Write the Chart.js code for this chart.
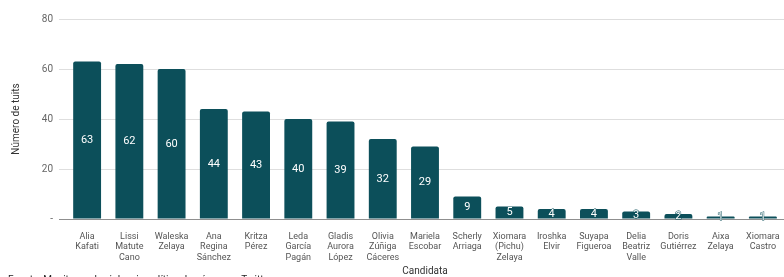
<!DOCTYPE html>
<html>
<head>
<meta charset="utf-8">
<script src="https://cdn.jsdelivr.net/npm/chart.js@4/dist/chart.umd.min.js"></script>
<style>
  html, body { margin: 0; padding: 0; background: #fff; overflow: hidden; }
  #wrap { position: relative; width: 784px; height: 277px; }
  #footer { position: absolute; left: 8px; top: 274px; font: 10px Roboto, Arial, sans-serif; color: #222; white-space: nowrap; }
</style>
</head>
<body>
<div id="wrap">
  <canvas id="c" width="784" height="277"></canvas>
  <div id="footer">Fuente: Monitoreo de violencia política de género en Twitter</div>
</div>
<script>
const categories = [
  ["Alia","Kafati"],
  ["Lissi","Matute","Cano"],
  ["Waleska","Zelaya"],
  ["Ana","Regina","Sánchez"],
  ["Kritza","Pérez"],
  ["Leda","García","Pagán"],
  ["Gladis","Aurora","López"],
  ["Olivia","Zúñiga","Cáceres"],
  ["Mariela","Escobar"],
  ["Scherly","Arriaga"],
  ["Xiomara","(Pichu)","Zelaya"],
  ["Iroshka","Elvir"],
  ["Suyapa","Figueroa"],
  ["Delia","Beatriz","Valle"],
  ["Doris","Gutiérrez"],
  ["Aixa","Zelaya"],
  ["Xiomara","Castro"]
];
const tuits = [63, 62, 60, 44, 43, 40, 39, 32, 29, 9, 5, 4, 4, 3, 2, 1, 1];
const yTicks = [0, 20, 40, 60, 80];

const barColor = '#0c4f5a';
const font = 'Roboto, Arial, sans-serif';

const valueLabels = {
  id: 'valueLabels',
  afterDatasetsDraw(chart) {
    const ctx = chart.ctx;
    const meta = chart.getDatasetMeta(0);
    ctx.save();
    ctx.font = '11px ' + font;
    ctx.fillStyle = '#ffffff';
    ctx.strokeStyle = barColor;
    ctx.lineWidth = 1;
    ctx.textAlign = 'center';
    ctx.textBaseline = 'middle';
    meta.data.forEach((bar, i) => {
      const y = (bar.y + bar.base) / 2;
      if (Math.abs(bar.base - bar.y) < 10) ctx.strokeText(String(tuits[i]), bar.x, y);
      ctx.fillText(String(tuits[i]), bar.x, y);
    });
    ctx.restore();
  }
};

new Chart(document.getElementById('c'), {
  type: 'bar',
  data: {
    labels: categories,
    datasets: [{
      data: tuits,
      backgroundColor: barColor,
      borderRadius: { topLeft: 2, topRight: 2 },
      borderSkipped: 'bottom',
      barPercentage: 0.66,
      categoryPercentage: 1.0
    }]
  },
  options: {
    responsive: false,
    animation: false,
    devicePixelRatio: 1,
    layout: { padding: { top: 19, right: 0, left: 0, bottom: 0 } },
    plugins: {
      legend: { display: false },
      tooltip: { enabled: false },
      title: { display: false }
    },
    scales: {
      x: {
        grid: { display: false },
        border: { display: false },
        ticks: {
          color: '#555',
          font: { family: font, size: 9 },
          maxRotation: 0,
          autoSkip: false,
          padding: 4
        },
        title: {
          display: true,
          text: 'Candidata',
          color: '#333',
          font: { family: font, size: 10 },
          padding: { top: 0, bottom: 0 }
        },
        afterFit(scale) { scale.height = 58; }
      },
      y: {
        min: 0,
        max: 80,
        afterBuildTicks(scale) { scale.ticks = yTicks.map(v => ({ value: v })); },
        grid: {
          color: (c) => (c.tick && c.tick.value === 0) ? '#8f8f8f' : '#dedede',
          lineWidth: 1,
          drawTicks: true,
          tickLength: 7
        },
        border: { display: false },
        ticks: {
          color: '#666',
          font: { family: font, size: 10 },
          padding: 6,
          callback: (v) => v === 0 ? '-' : v
        },
        title: {
          display: true,
          text: 'Número de tuits',
          color: '#333',
          font: { family: font, size: 10 },
          padding: { top: 10, bottom: 0 }
        },
        afterFit(scale) { scale.width = 66; }
      }
    }
  },
  plugins: [valueLabels]
});
</script>
</body>
</html>
